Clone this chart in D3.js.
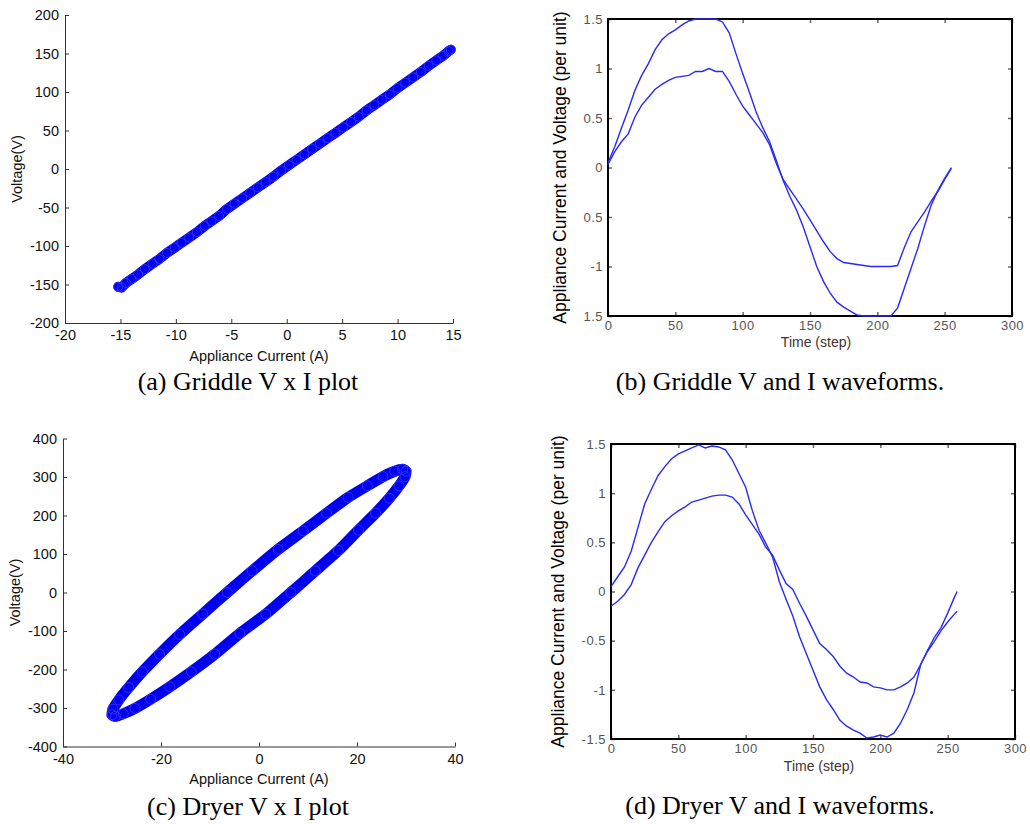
<!DOCTYPE html>
<html>
<head>
<meta charset="utf-8">
<script src="https://cdn.jsdelivr.net/npm/d3@7"></script>
<style>
  body { margin: 0; background: #fff; }
  svg text { font-family: "Liberation Sans", Arial, sans-serif; }
  .caption { font-family: "Liberation Serif", "Times New Roman", serif; font-size: 26px; fill: #000; }
</style>
</head>
<body>
<svg id="fig" width="1030" height="824"></svg>
<script>
// ---- (a) griddle V x I scatter
const griddleCurrent = [-15.2,-14.9,-14.5,-14.0,-13.4,-12.8,-12.1,-11.5,-10.8,-10.1,-9.5,-8.8,-8.1,-7.4,-6.8,-6.1,-5.4,-4.7,-4.0,-3.3,-2.6,-1.9,-1.2,-0.5,0.2,0.9,1.6,2.3,3.0,3.7,4.4,5.1,5.8,6.5,7.2,7.9,8.6,9.3,10.0,10.7,11.4,12.1,12.8,13.5,14.1,14.6,14.8];
const griddleVoltage = [-153,-154,-148,-143,-137,-130,-123,-117,-109,-102,-96,-89,-82,-74,-68,-61,-52,-45,-38,-31,-24,-17,-10,-2,5,12,19,26,33,40,47,54,61,68,76,83,90,97,105,112,119,126,134,141,147,153,155];

// ---- (c) dryer V x I loop, traced once round
const dryerCurrent = [-6.5,-1.4,3.9,9.0,13.8,18.2,22.1,25.3,27.7,29.3,30.0,29.8,28.6,26.6,23.8,20.3,16.2,11.5,
  6.5,1.4,-3.9,-9.0,-13.8,-18.2,-22.1,-25.3,-27.7,-29.3,-30.0,-29.8,-28.6,-26.6,-23.8,-20.3,-16.2,-11.5];
const dryerVoltage = [0,56,112,160,206,247,277,301,315,320,315,301,277,245,206,162,109,56,
  0,-56,-106,-160,-206,-245,-277,-301,-315,-322,-318,-303,-279,-247,-206,-160,-109,-56];

// ---- (b) griddle waveforms, per unit
const griddleSteps = [0,5,10,15,20,25,30,35,40,45,50,55,60,65,70,75,80,85,90,95,100,105,110,115,120,125,130,135,140,145,150,155,160,165,170,175,180,185,190,195,200,205,210,215,220,225,230,235,240,245,250,255];
const griddleVoltagePU = [0.05,0.21,0.40,0.58,0.78,0.93,1.05,1.19,1.29,1.35,1.39,1.44,1.48,1.50,1.50,1.50,1.50,1.47,1.36,1.15,0.95,0.76,0.56,0.40,0.26,0.07,-0.13,-0.29,-0.43,-0.60,-0.80,-1.00,-1.15,-1.27,-1.36,-1.41,-1.45,-1.49,-1.50,-1.50,-1.50,-1.50,-1.50,-1.42,-1.22,-1.02,-0.82,-0.59,-0.38,-0.23,-0.11,0.00];
const griddleCurrentPU = [0.03,0.16,0.26,0.34,0.51,0.63,0.71,0.79,0.84,0.88,0.91,0.92,0.93,0.97,0.97,1.00,0.97,0.97,0.87,0.74,0.62,0.53,0.44,0.35,0.23,0.04,-0.12,-0.22,-0.32,-0.42,-0.53,-0.64,-0.75,-0.85,-0.92,-0.96,-0.97,-0.98,-0.99,-1.00,-1.00,-1.00,-1.00,-0.99,-0.81,-0.65,-0.55,-0.45,-0.34,-0.24,-0.12,-0.01];

// ---- (d) dryer waveforms, per unit
const dryerSteps = [0,5,10,15,20,25,30,35,40,45,50,55,60,65,70,75,80,85,90,95,100,105,110,115,120,125,130,135,140,145,150,155,160,165,170,175,180,185,190,195,200,205,210,215,220,225,230,235,240,245,250,255,257];
const dryerVoltagePU = [0.05,0.15,0.25,0.41,0.65,0.89,1.04,1.18,1.27,1.35,1.40,1.43,1.46,1.49,1.46,1.48,1.47,1.44,1.34,1.20,1.06,0.82,0.62,0.49,0.35,0.10,-0.08,-0.25,-0.46,-0.63,-0.80,-0.97,-1.10,-1.20,-1.31,-1.37,-1.41,-1.44,-1.49,-1.48,-1.46,-1.48,-1.44,-1.34,-1.20,-1.03,-0.74,-0.60,-0.47,-0.37,-0.22,-0.06,0.00];
const dryerCurrentPU = [-0.15,-0.10,-0.03,0.07,0.24,0.37,0.50,0.61,0.71,0.77,0.82,0.86,0.91,0.93,0.95,0.97,0.98,0.98,0.96,0.89,0.78,0.68,0.58,0.45,0.37,0.22,0.08,0.02,-0.12,-0.25,-0.39,-0.53,-0.59,-0.66,-0.76,-0.83,-0.87,-0.92,-0.93,-0.97,-0.98,-1.00,-1.00,-0.97,-0.93,-0.87,-0.74,-0.61,-0.51,-0.40,-0.31,-0.23,-0.20];

// ---- tick values / labels
const griddleScatterXTicks = [-20,-15,-10,-5,0,5,10,15];
const griddleScatterYTicks = [-200,-150,-100,-50,0,50,100,150,200];
const dryerScatterXTicks = [-40,-20,0,20,40];
const dryerScatterYTicks = [-400,-300,-200,-100,0,100,200,300,400];
const waveXTicks = [0,50,100,150,200,250,300];
const waveYTicks = [-1.5,-1,-0.5,0,0.5,1,1.5];
const griddleWaveYLabels = ["1.5","-1","0.5","0","0.5","1","1.5"];  // printed without some minus signs
const dryerWaveYLabels = ["-1.5","-1","-0.5","0","0.5","1","1.5"];

const svg = d3.select("#fig");
const blue = "#0000f0";

function scatterPanel(p) {
  var x = d3.scaleLinear().domain(p.xDomain).range([p.left, p.right]);
  var y = d3.scaleLinear().domain(p.yDomain).range([p.bottom, p.top]);
  var g = svg.append("g");

  var xAxis = g.append("g")
    .attr("transform", "translate(0," + p.bottom + ")")
    .call(d3.axisBottom(x).tickValues(p.xTicks).tickFormat(d => String(d))
      .tickSizeInner(-4).tickSizeOuter(0).tickPadding(7));
  var yAxis = g.append("g")
    .attr("transform", "translate(" + p.left + ",0)")
    .call(d3.axisLeft(y).tickValues(p.yTicks).tickFormat(d => String(d))
      .tickSizeInner(-4).tickSizeOuter(0).tickPadding(6));
  [xAxis, yAxis].forEach(a => {
    a.attr("font-family", null).attr("font-size", null);
    a.selectAll("path, line").attr("stroke", "#333");
    a.selectAll("text").attr("font-size", 14.5).attr("fill", "#111");
  });

  var pts = p.xs.map((v, i) => [v, p.ys[i]]);
  var line = d3.line().x(d => x(d[0])).y(d => y(d[1]));
  if (p.closed) line.curve(d3.curveCardinalClosed.tension(0.5));

  // dense marker band
  g.append("path")
    .attr("d", line(pts))
    .attr("fill", "none")
    .attr("stroke", blue)
    .attr("stroke-width", p.band)
    .attr("stroke-linejoin", "round")
    .attr("stroke-linecap", "round");
  g.selectAll("circle.mk").data(pts).enter().append("circle")
    .attr("class", "mk")
    .attr("cx", d => x(d[0]))
    .attr("cy", d => y(d[1]))
    .attr("r", p.band / 2 - 0.5)
    .attr("fill", "none")
    .attr("stroke", "#3a3aff")
    .attr("stroke-width", 0.8);

  g.append("text")
    .attr("x", (p.left + p.right) / 2).attr("y", p.xLabelY)
    .attr("text-anchor", "middle").attr("font-size", 14.5).attr("fill", "#111")
    .text("Appliance Current (A)");
  g.append("text")
    .attr("transform", "translate(" + p.yLabelX + "," + (p.top + p.bottom) / 2 + ") rotate(-90)")
    .attr("text-anchor", "middle").attr("dy", "0.35em").attr("font-size", 14.5).attr("fill", "#111")
    .text("Voltage(V)");
  g.append("text").attr("class", "caption")
    .attr("x", p.capX).attr("y", p.capY).attr("text-anchor", "middle")
    .text(p.caption);
}

function wavePanel(p) {
  var x = d3.scaleLinear().domain([0, 300]).range([p.left, p.right]);
  var y = d3.scaleLinear().domain([-1.5, 1.5]).range([p.bottom, p.top]);
  var g = svg.append("g");
  var labelOf = d => p.yLabels[waveYTicks.indexOf(d)];

  var axes = [
    g.append("g").attr("transform", "translate(0," + p.bottom + ")")
      .call(d3.axisBottom(x).tickValues(waveXTicks).tickSizeInner(-4).tickSizeOuter(0).tickPadding(5)),
    g.append("g").attr("transform", "translate(0," + p.top + ")")
      .call(d3.axisTop(x).tickValues(waveXTicks).tickFormat("").tickSizeInner(-4).tickSizeOuter(0)),
    g.append("g").attr("transform", "translate(" + p.left + ",0)")
      .call(d3.axisLeft(y).tickValues(waveYTicks).tickFormat(labelOf).tickSizeInner(-4).tickSizeOuter(0).tickPadding(5)),
    g.append("g").attr("transform", "translate(" + p.right + ",0)")
      .call(d3.axisRight(y).tickValues(waveYTicks).tickFormat("").tickSizeInner(-4).tickSizeOuter(0))
  ];
  axes.forEach(a => {
    a.attr("font-family", null).attr("font-size", null);
    a.select(".domain").remove();
    a.selectAll("line").attr("stroke", "#666").attr("stroke-width", 1.5);
    a.selectAll("text").attr("font-size", 13).attr("fill", "#555").attr("letter-spacing", "0.5px");
  });

  g.append("rect")
    .attr("x", p.left).attr("y", p.top)
    .attr("width", p.right - p.left).attr("height", p.bottom - p.top)
    .attr("fill", "none").attr("stroke", "#000").attr("stroke-width", 2);

  var line = d3.line()
    .x((d, i) => x(p.steps[i])).y(d => y(d));
  [p.voltage, p.current].forEach(s => {
    g.append("path")
      .attr("d", line(s))
      .attr("fill", "none")
      .attr("stroke", "#2a2af5")
      .attr("stroke-width", 1.4);
  });

  g.append("text")
    .attr("x", p.xLabelX).attr("y", p.xLabelY)
    .attr("text-anchor", "middle").attr("font-size", 14).attr("fill", "#433")
    .text("Time (step)");
  g.append("text")
    .attr("transform", "translate(" + p.yLabelX + "," + (p.top + p.bottom) / 2 + ") rotate(-90)")
    .attr("text-anchor", "middle").attr("dy", "0.35em").attr("font-size", 17.5).attr("fill", "#000")
    .text("Appliance Current and Voltage (per unit)");
  g.append("text").attr("class", "caption")
    .attr("x", p.capX).attr("y", p.capY).attr("text-anchor", "middle")
    .text(p.caption);
}

scatterPanel({
  left: 65, right: 453, top: 15, bottom: 323,
  xDomain: [-20, 15], yDomain: [-200, 200],
  xTicks: griddleScatterXTicks, yTicks: griddleScatterYTicks,
  xs: griddleCurrent, ys: griddleVoltage, closed: false, band: 10,
  xLabelY: 361, yLabelX: 17, capX: 248, capY: 390,
  caption: "(a) Griddle V x I plot"
});

scatterPanel({
  left: 63, right: 455, top: 438.5, bottom: 746.5,
  xDomain: [-40, 40], yDomain: [-400, 400],
  xTicks: dryerScatterXTicks, yTicks: dryerScatterYTicks,
  xs: dryerCurrent, ys: dryerVoltage, closed: true, band: 11,
  xLabelY: 784, yLabelX: 15, capX: 248, capY: 815,
  caption: "(c) Dryer V x I plot"
});

wavePanel({
  left: 608, right: 1012, top: 19, bottom: 316,
  steps: griddleSteps, voltage: griddleVoltagePU, current: griddleCurrentPU,
  yLabels: griddleWaveYLabels,
  xLabelX: 816, xLabelY: 347, yLabelX: 560, capX: 780, capY: 390,
  caption: "(b) Griddle V and I waveforms."
});

wavePanel({
  left: 611, right: 1015, top: 444, bottom: 739,
  steps: dryerSteps, voltage: dryerVoltagePU, current: dryerCurrentPU,
  yLabels: dryerWaveYLabels,
  xLabelX: 819, xLabelY: 771, yLabelX: 558, capX: 780, capY: 814,
  caption: "(d) Dryer V and I waveforms."
});
</script>
</body>
</html>
